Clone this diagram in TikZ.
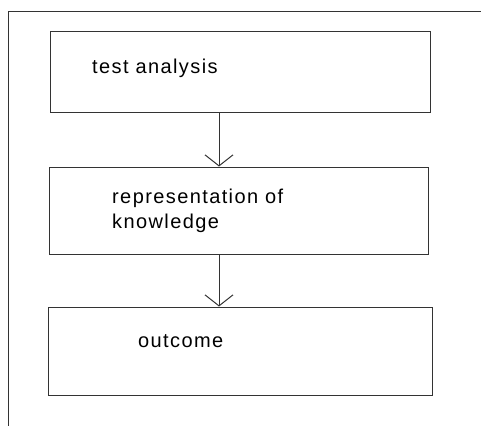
\documentclass[tikz,border=0pt]{standalone}
\usepackage{fontspec}
\setmainfont{Liberation Sans}[LetterSpace=7]
\usetikzlibrary{arrows.meta}
\definecolor{ink}{HTML}{333333}
\tikzset{
  box/.style={draw=ink, line width=1pt, rectangle, inner sep=0pt},
  lbl/.style={anchor=base west, inner sep=0pt, align=left, text=black,
    font=\fontsize{20}{25}\selectfont},
  conn/.style={draw=ink, line width=1pt, -{Straight Barb[length=11pt,width=28pt,line width=1pt]}}
}
\begin{document}
\begin{tikzpicture}[x=1pt,y=-1pt]
\useasboundingbox (0,0) rectangle (481,426);
\draw[ink, line width=1pt] (481,11) -- (8,11) -- (8,426);
\node[box, minimum width=380pt, minimum height=81pt] (b1) at (240,71.5) {};
\node[box, minimum width=379pt, minimum height=87pt] (b2) at (238.5,210.5) {};
\node[box, minimum width=384pt, minimum height=88pt] (b3) at (240,351) {};
\node[lbl] (t1) at (92,73) {test analysis};
\node[lbl] (t2) at (112,228) {representation of\\knowledge};
\node[lbl] (t3) at (138,347) {outcome};
\coordinate (cx) at (219,0);
\draw[conn] (b1.south -| cx) -- (b2.north -| cx);
\draw[conn] (b2.south -| cx) -- (b3.north -| cx);
\end{tikzpicture}
\end{document}
